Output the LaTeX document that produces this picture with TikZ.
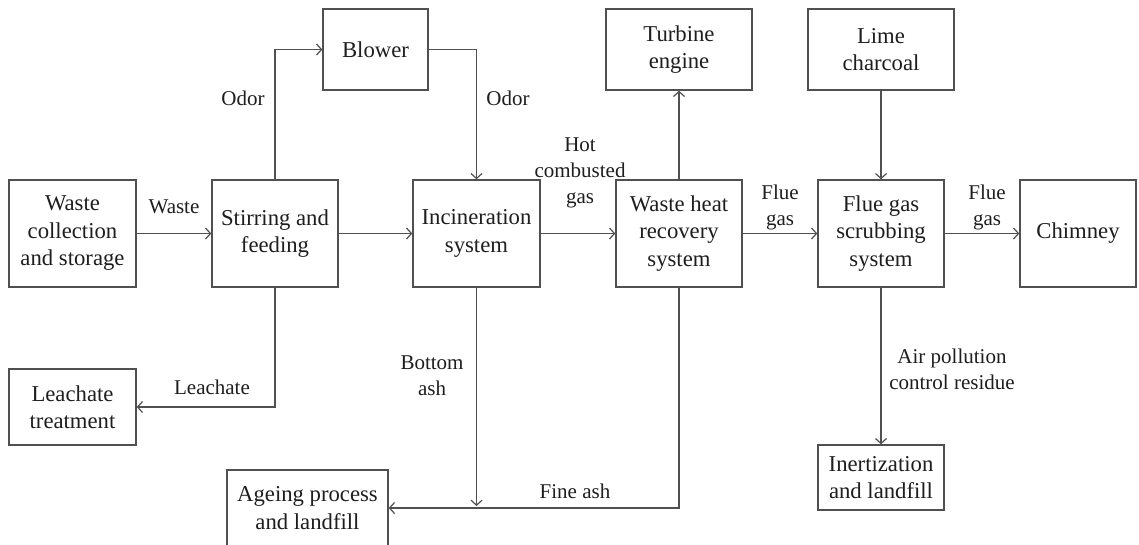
\documentclass[tikz,border=0pt]{standalone}
\usepackage{fontspec}
\setmainfont{Liberation Serif}
\usetikzlibrary{arrows.meta}
\definecolor{linec}{RGB}{80,80,80}
\definecolor{txtc}{RGB}{30,30,30}
\begin{document}
\begin{tikzpicture}[x=1pt,y=-1pt,
  box/.style={draw=linec, line width=1.4pt, text=txtc, align=center, inner sep=0pt,
              font=\fontsize{22.7}{27.5}\selectfont},
  lbl/.style={text=txtc, align=center, inner sep=0pt, font=\fontsize{21}{26}\selectfont},
  arr/.style={draw=linec, line width=1.4pt, -{Straight Barb[length=5pt,width=11pt,line width=1.2pt]}}]
\clip (0,0) rectangle (1139,544);
\fill[white] (0,0) rectangle (1139,544);
% boxes
\node[box, minimum width=127pt, minimum height=107pt] (wc) at (72.5,233.5) {Waste\\collection\\and storage};
\node[box, minimum width=126pt, minimum height=107pt] (sf) at (275,233.5) {Stirring and\\feeding};
\node[box, minimum width=105pt, minimum height=81pt] (blow) at (375.5,49.5) {Blower};
\node[box, minimum width=127pt, minimum height=107pt] (inc) at (476.5,233.5) {Incineration\\system};
\node[box, minimum width=146pt, minimum height=81pt] (turb) at (679,49.5) {Turbine\\engine};
\node[box, minimum width=126pt, minimum height=107pt] (whr) at (679,233.5) {Waste heat\\recovery\\system};
\node[box, minimum width=146pt, minimum height=81pt] (lime) at (881,49.5) {Lime\\charcoal};
\node[box, minimum width=126pt, minimum height=107pt] (fgs) at (881,233.5) {Flue gas\\scrubbing\\system};
\node[box, minimum width=116pt, minimum height=107pt] (chim) at (1078,233.5) {Chimney};
\node[box, minimum width=127pt, minimum height=76pt] (leach) at (72.5,407) {Leachate\\treatment};
\node[box, minimum width=161pt, minimum height=76pt] (age) at (307.5,508) {Ageing process\\and landfill};
\node[box, minimum width=126pt, minimum height=65pt] (inert) at (881,477.5) {Inertization\\and landfill};
% connectors
\draw[arr] (wc) -- (sf);
\draw[arr] (sf.north) |- (blow.west);
\draw[arr] (blow.east) -| (inc.north);
\draw[arr] (sf) -- (inc);
\draw[arr] (inc) -- (whr);
\draw[arr] (whr.north) -- (turb.south);
\draw[arr] (whr) -- (fgs);
\draw[arr] (fgs) -- (chim);
\draw[arr] (lime.south) -- (fgs.north);
\draw[arr] (sf.south) |- (leach.east);
\draw[arr] (whr.south) |- (age.east);
\coordinate (baend) at (476.5,506);
\draw[arr] (inc.south) -- (baend);
\draw[arr] (fgs.south) -- (inert.north);
% labels
\node[lbl] (lwaste) at (174,207) {Waste};
\node[lbl] (lodor1) at (243,98) {Odor};
\node[lbl] (lodor2) at (508,98) {Odor};
\node[lbl] (lhot) at (580,173) {Hot\\combusted\\gas};
\node[lbl] (lflue1) at (780,207) {Flue\\gas};
\node[lbl] (lflue2) at (987,207) {Flue\\gas};
\node[lbl] (lleach) at (212,387) {Leachate};
\node[lbl] (lbot) at (432,376) {Bottom\\ash};
\node[lbl] (lfine) at (575,491) {Fine ash};
\node[lbl] (lair) at (952,369) {Air pollution\\control residue};
\end{tikzpicture}
\end{document}
